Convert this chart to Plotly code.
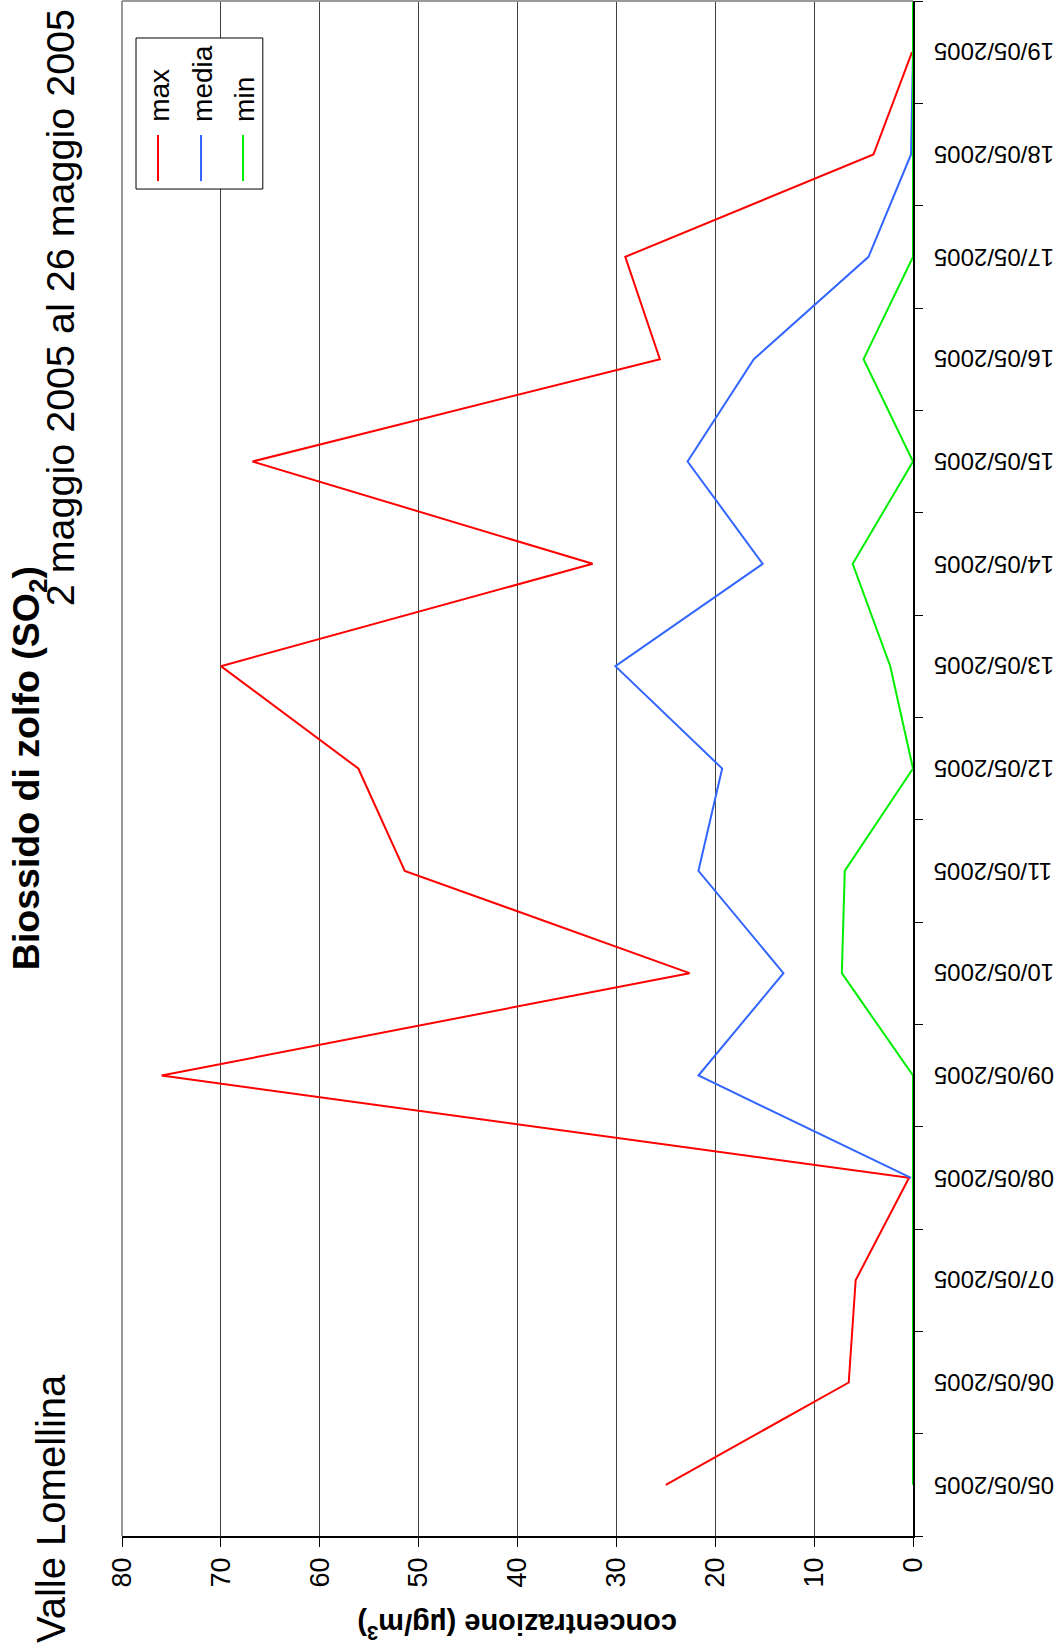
import plotly.graph_objects as go

# the series run on past the visible axis (the green line reaches the top edge)
dates = ["05/05/2005", "06/05/2005", "07/05/2005", "08/05/2005", "09/05/2005",
         "10/05/2005", "11/05/2005", "12/05/2005", "13/05/2005", "14/05/2005",
         "15/05/2005", "16/05/2005", "17/05/2005", "18/05/2005", "19/05/2005",
         "20/05/2005"]
date_labels = dates[:15]
max_vals = [25.0, 6.5, 5.8, 0.4, 76.0, 22.6, 51.4, 56.1, 70.0, 32.4, 66.8, 25.6, 29.1, 4.0, 0.1, None]
media_vals = [None, None, None, 0.2, 21.7, 13.1, 21.7, 19.3, 30.1, 15.2, 22.8, 16.1, 4.5, 0.2, 0.0, None]
min_vals = [0, 0, 0, 0, 0, 7.2, 6.9, 0, 2.3, 6.1, 0, 5.0, 0, 0, 0, 0]
x_ticks = [0, 10, 20, 30, 40, 50, 60, 70, 80]

series = [("max", max_vals, "#ff0000"), ("media", media_vals, "#3366ff"), ("min", min_vals, "#00ee00")]

FONT = "Liberation Sans, Arial, Helvetica, sans-serif"

fig = go.Figure()
for name, vals, col in series:
    fig.add_trace(go.Scatter(x=vals, y=dates, mode="lines", name=name,
                             line=dict(color=col, width=2), showlegend=False,
                             connectgaps=False))

fig.update_layout(
    width=1061, height=1651,
    margin=dict(l=122, r=148, t=1, b=115),
    paper_bgcolor="white", plot_bgcolor="white",
    font=dict(family=FONT, color="black"),
    xaxis=dict(range=[80, 0], tickvals=x_ticks, ticks="outside", ticklen=9,
               tickcolor="black", tickangle=-90, tickfont=dict(size=27, family=FONT),
               showline=True, linecolor="black", linewidth=1.5,
               showgrid=True, gridcolor="#404040", gridwidth=1, zeroline=False,
               automargin=False),
    yaxis=dict(type="category", categoryorder="array", categoryarray=dates,
               range=[-0.5, len(date_labels) - 0.5], side="right", ticks="outside", ticklen=8,
               tickcolor="black", tickson="boundaries", showticklabels=False,
               showline=True, linecolor="black", linewidth=1.5,
               showgrid=False, zeroline=False, automargin=False),
)

# date labels (upside-down, as in the rotated original)
for d in date_labels:
    fig.add_annotation(text=d, xref="paper", yref="y", x=1, y=d, xshift=19,
                       xanchor="left", yanchor="middle", textangle=180,
                       showarrow=False, font=dict(size=24, family=FONT, color="black"))

# plot frame (top/left in grey)
fig.add_shape(type="line", xref="paper", yref="paper", x0=0, x1=1, y0=1, y1=1,
              line=dict(color="#999999", width=2))
fig.add_shape(type="line", xref="paper", yref="paper", x0=0, x1=0, y0=0, y1=1,
              line=dict(color="#999999", width=2))

# legend box
fig.add_shape(type="rect", xref="paper", yref="paper", x0=0.0177, x1=0.178,
              y0=0.8775, y1=0.9759, line=dict(color="black", width=1),
              fillcolor="white", layer="above")
leg_x = [0.0455, 0.0999, 0.153]
for (name, vals, col), lx in zip(series, leg_x):
    fig.add_shape(type="line", xref="paper", yref="paper", x0=lx, x1=lx,
                  y0=0.8827, y1=0.9127, line=dict(color=col, width=2), layer="above")
    fig.add_annotation(text=name, xref="paper", yref="paper", x=lx + 0.002, y=0.9200,
                       xanchor="center", yanchor="bottom", textangle=-90,
                       showarrow=False, font=dict(size=28, family=FONT, color="black"))

# titles
fig.add_annotation(text="<b>Biossido di zolfo (SO<sub>2</sub>)</b>", xref="paper", yref="paper",
                   x=-0.118, y=0.5, xanchor="center", yanchor="middle", textangle=-90,
                   showarrow=False, font=dict(size=37.5, family=FONT, color="black"))
fig.add_annotation(text="2 maggio 2005 al 26 maggio 2005", xref="paper", yref="paper",
                   x=-0.078, y=0.80, xanchor="center", yanchor="middle", textangle=-90,
                   showarrow=False, font=dict(size=39.5, family=FONT, color="black"))
fig.add_annotation(text="Valle Lomellina", xref="paper", yref="paper",
                   x=-0.089, y=0.018, xanchor="center", yanchor="middle", textangle=-90,
                   showarrow=False, font=dict(size=40, family=FONT, color="black"))
fig.add_annotation(text="<b>concentrazione (µg/m<sup>3</sup>)</b>", xref="paper", yref="paper",
                   x=0.5, y=-0.059, xanchor="center", yanchor="middle", textangle=180,
                   showarrow=False, font=dict(size=29, family=FONT, color="black"))

fig.write_html("out.html", config={"displayModeBar": False},
               post_script="document.body.style.margin='0';")
